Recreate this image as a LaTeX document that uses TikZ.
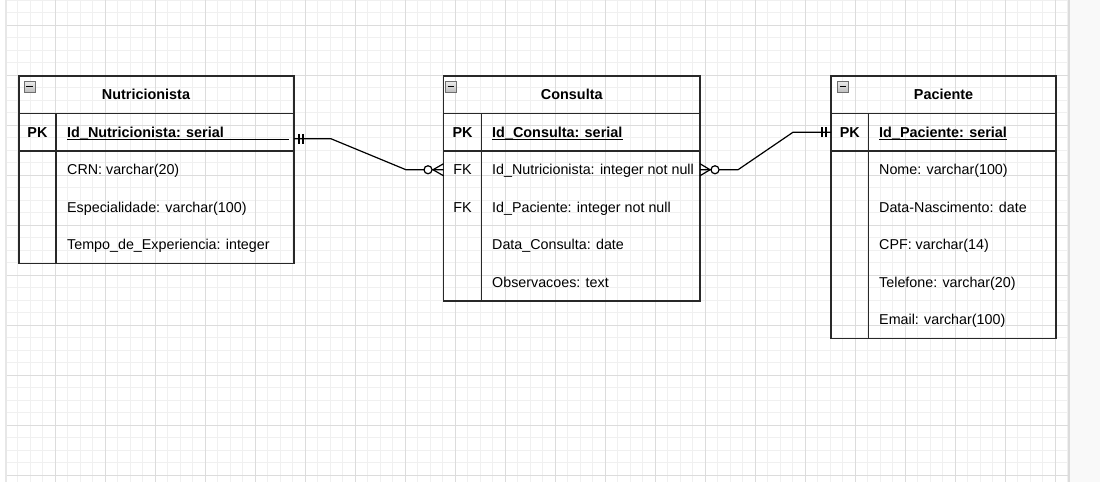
\documentclass[tikz,border=0pt]{standalone}
\usepackage{fontspec}
\setmainfont{Liberation Sans}
\usepackage{tikz}
\definecolor{erline}{RGB}{40,40,40}
\definecolor{gridminor}{RGB}{240,240,240}
\definecolor{gridmajor}{RGB}{220,220,220}
\definecolor{panelgray}{RGB}{249,249,249}
\definecolor{foldgray}{RGB}{110,110,110}

\tikzset{
  erbox/.style={draw=erline,line width=1.2pt,rectangle,minimum height=37.5,inner sep=0pt,outer sep=0pt},
  ertitle/.style={font=\fontsize{14.4}{17}\selectfont\bfseries,text height=10.4pt,text depth=0pt,inner sep=0pt},
  erkey/.style={font=\fontsize{14.4}{17}\selectfont\bfseries,text height=10.4pt,text depth=0pt,inner sep=0pt},
  erfk/.style={font=\fontsize{14.4}{17}\selectfont,text height=10.4pt,text depth=0pt,inner sep=0pt},
  erfield/.style={font=\fontsize{14.3}{17}\selectfont,anchor=west,text height=10.4pt,text depth=0pt,inner sep=0pt},
  erpkfield/.style={font=\fontsize{14.4}{17}\selectfont\bfseries,anchor=west,text height=10.4pt,text depth=0pt,inner sep=0pt},
  erunder/.style={draw=black,line width=1.3pt},
  erlink/.style={draw=black,line width=1.2pt},
  erfold/.style={draw=foldgray,line width=0.9pt,top color=gray!15,bottom color=gray!50,minimum size=11,inner sep=0pt,
    path picture={\draw[black,line width=1.3pt] ([xshift=2.4pt]path picture bounding box.west) -- ([xshift=-2.4pt]path picture bounding box.east);}}
}

\begin{document}
\begin{tikzpicture}[x=1pt,y=-1pt]
\useasboundingbox (0,0) rectangle (1100,482);

% Canvas and grid
\fill[white] (0,0) rectangle (1100,482);
\foreach \gx in {5,17.5,...,1068} \draw[gridminor,line width=1pt] (\gx,0) -- (\gx,482);
\foreach \gy in {0,12.5,...,482} \draw[gridminor,line width=1pt] (6,\gy) -- (1068,\gy);
\foreach \gx in {55,105,...,1055} \draw[gridmajor,line width=1pt] (\gx,0) -- (\gx,482);
\foreach \gy in {25,75,...,475} \draw[gridmajor,line width=1pt] (6,\gy) -- (1068,\gy);
\fill[panelgray] (1069,0) rectangle (1100,482);
\draw[gridmajor,line width=1.5pt] (1069,0) -- (1069,482);
\draw[gridmajor!70,line width=1.5pt] (6,0) -- (6,482);

% Table Nutricionista
\node[erbox,minimum width=275] (nuthead) at (156.5,94.75) {};
\node[erbox,minimum width=275] (nutpk) at (156.5,132.25) {};
\node[erbox,minimum width=275,minimum height=112.5] (nutbody) at (156.5,207.25) {};
\draw[draw=erline,line width=1.2pt] (56,113.5) -- (56,263.5);
\node[erfold] (nutfold) at (29.5,86.5) {};
\node[ertitle] (nuttitle) at (146,94.75) {Nutricionista};
\node[erkey] (nutkey) at (37.5,132.25) {PK};
\node[erpkfield] (nutid) at (67,132.25) {Id\_Nutricionista: serial};
\draw[erunder] ([yshift=-1.8pt]nutid.south west) -- ++(222,0);
\node[erfield] (nutcrn) at (67,169.75) {CRN: varchar(20)};
\node[erfield] (nutesp) at (67,207.25) {Especialidade: varchar(100)};
\node[erfield] (nuttempo) at (67,244.75) {Tempo\_de\_Experiencia: integer};

% Table Consulta
\node[erbox,minimum width=256.5] (conhead) at (571.75,94.75) {};
\node[erbox,minimum width=256.5] (conpk) at (571.75,132.25) {};
\node[erbox,minimum width=256.5,minimum height=150] (conbody) at (571.75,226) {};
\draw[draw=erline,line width=1.2pt] (481.5,113.5) -- (481.5,301);
\node[erfold] (confold) at (451,86.5) {};
\node[ertitle] (contitle) at (571.75,94.75) {Consulta};
\node[erkey] (conkey) at (462.5,132.25) {PK};
\node[erpkfield] (conid) at (492,132.25) {Id\_Consulta: serial};
\draw[erunder] ([yshift=-1.8pt]conid.south west) -- ([yshift=-1.8pt]conid.south east);
\node[erfk] (confk1) at (462.5,169.75) {FK};
\node[erfield] (connut) at (492,169.75) {Id\_Nutricionista: integer not null};
\node[erfk] (confk2) at (462.5,207.25) {FK};
\node[erfield] (conpac) at (492,207.25) {Id\_Paciente: integer not null};
\node[erfield] (condata) at (492,244.75) {Data\_Consulta: date};
\node[erfield] (conobs) at (492,282.25) {Observacoes: text};

% Table Paciente
\node[erbox,minimum width=225] (pachead) at (943.5,94.75) {};
\node[erbox,minimum width=225] (pacpk) at (943.5,132.25) {};
\node[erbox,minimum width=225,minimum height=187.5] (pacbody) at (943.5,244.75) {};
\draw[draw=erline,line width=1.2pt] (868.5,113.5) -- (868.5,338.5);
\node[erfold] (pacfold) at (843,86.5) {};
\node[ertitle] (pactitle) at (943.5,94.75) {Paciente};
\node[erkey] (packey) at (849.75,132.25) {PK};
\node[erpkfield] (pacid) at (879,132.25) {Id\_Paciente: serial};
\draw[erunder] ([yshift=-1.8pt]pacid.south west) -- ([yshift=-1.8pt]pacid.south east);
\node[erfield] (pacnome) at (879,169.75) {Nome: varchar(100)};
\node[erfield] (pacnasc) at (879,207.25) {Data-Nascimento: date};
\node[erfield] (paccpf) at (879,244.75) {CPF: varchar(14)};
\node[erfield] (pactel) at (879,282.25) {Telefone: varchar(20)};
\node[erfield] (pacmail) at (879,319.75) {Email: varchar(100)};

% Relationship ends
\coordinate (nutend) at ([yshift=-6.5pt]nutpk.east);
\coordinate (conendl) at (conbody.west |- confk1);
\coordinate (conendr) at (conbody.east |- confk1);
\coordinate (pacend) at (pacpk.west);

% Connection lines
\draw[erlink] (nutend) -- ++(37,0) -- ++(75,31) -- (conendl);
\draw[erlink] (conendr) -- ++(38,0) -- ++(55,-37.5) -- (pacend);

% Mandatory one
\draw[erlink] ([xshift=5pt]nutend) ++(0,-5) -- ++(0,10) ([xshift=9pt]nutend) ++(0,-5) -- ++(0,10);
\draw[erlink] ([xshift=-5pt]pacend) ++(0,-5) -- ++(0,10) ([xshift=-9pt]pacend) ++(0,-5) -- ++(0,10);

% Zero or many
\draw[erlink] ([xshift=-10.5pt]conendl) -- ++(10.5,-6) ([xshift=-10.5pt]conendl) -- ++(10.5,6);
\draw[erlink,fill=white] ([xshift=-15.5pt]conendl) circle (4);
\draw[erlink] ([xshift=10pt]conendr) -- ++(-10,-6) ([xshift=10pt]conendr) -- ++(-10,6);
\draw[erlink,fill=white] ([xshift=15pt]conendr) circle (4);
\end{tikzpicture}
\end{document}
